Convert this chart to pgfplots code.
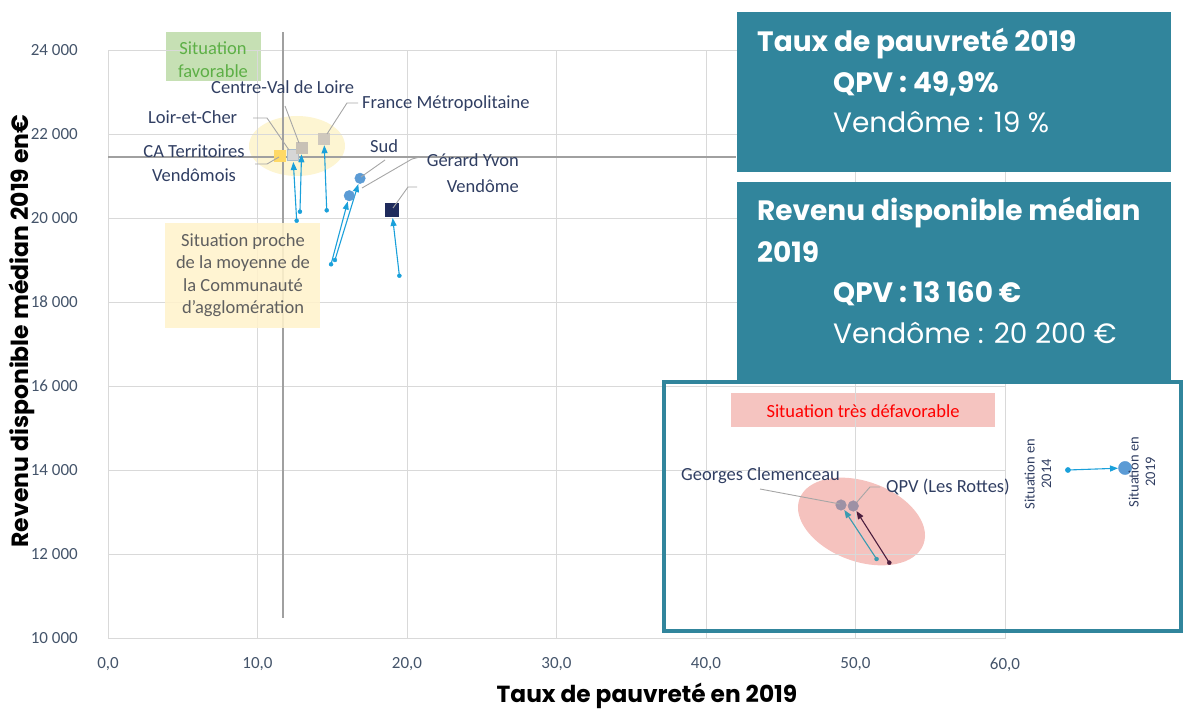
\documentclass[border=0pt]{standalone}
\usepackage{fontspec}
\setmainfont{Carlito}
\newfontfamily\pop{Poppins}
\usepackage{pgfplots}
\pgfplotsset{compat=1.18}
\usetikzlibrary{arrows.meta}
\definecolor{tealbox}{HTML}{31859C}
\definecolor{gridc}{HTML}{D9D9D9}
\definecolor{refc}{HTML}{A0A0A0}
\definecolor{leadc}{HTML}{A6A6A6}
\definecolor{tickc}{HTML}{44546A}
\definecolor{annc}{HTML}{303E62}
\definecolor{arrc}{HTML}{1AA0DA}
\definecolor{gcarr}{HTML}{3A9BB0}
\definecolor{qpvarr}{HTML}{4B1E3E}
\definecolor{yellell}{HTML}{FDF5D2}
\definecolor{pinkell}{HTML}{F5C2BE}
\definecolor{greenbox}{HTML}{C6E0B4}
\definecolor{greentxt}{HTML}{5DAF46}
\definecolor{yellbox}{HTML}{FFF2CC}
\definecolor{prochetxt}{HTML}{5F5F5F}
\definecolor{pinkbox}{HTML}{F5C4C0}
\definecolor{cayel}{HTML}{FFD966}
\definecolor{loirf}{HTML}{D6D6D6}
\definecolor{loird}{HTML}{A9BCCB}
\definecolor{centref}{HTML}{C8C1B6}
\definecolor{francef}{HTML}{CFC8BD}
\definecolor{bluec}{HTML}{5B9BD5}
\definecolor{navyc}{HTML}{1F2B5C}
\definecolor{qpvc}{HTML}{9D91A5}
\newcommand\af{\fontsize{18.5}{22}\selectfont}
\begin{document}
\begin{tikzpicture}
\begin{scope}[x=1pt,y=-1pt]
\useasboundingbox (0,0) rectangle (1184,706);
\fill[yellell] (297,146) ellipse [x radius=48, y radius=30];
\fill[pinkell, rotate around={-20:(861.5,521.5)}] (861.5,521.5) ellipse [x radius=66, y radius=40];
\fill[greenbox] (166,32) rectangle (261,81);
\fill[pinkbox] (731,393) rectangle (995,427);
\end{scope}
\begin{axis}[
  at={(108pt,-638pt)}, anchor=south west,
  scale only axis, width=897pt, height=588pt,
  xmin=0, xmax=60, ymin=10000, ymax=24000,
  clip=false,
  scaled y ticks=false, scaled x ticks=false,
  xtick={0,10,20,30,40,50,60},
  xticklabels={{0,0},{10,0},{20,0},{30,0},{40,0},{50,0},{60,0}},
  ytick={10000,12000,14000,16000,18000,20000,22000,24000},
  yticklabels={10 000,12 000,14 000,16 000,18 000,20 000,22 000,24 000},
  major tick length=0pt,
  grid=major, grid style={draw=gridc, line width=0.9pt},
  axis line style={draw=gridc, line width=0.9pt},
  ticklabel style={font=\fontsize{17}{17}\selectfont, text=tickc, inner sep=0pt},
  yticklabel style={anchor=east, xshift=-30pt},
  xticklabel style={anchor=north, yshift=-19.5pt},
]
% reference lines (CA Territoires Vendomois)
\addplot[refc, line width=2pt] coordinates {(11.69,10476) (11.69,24436)};
\addplot[refc, line width=2pt] coordinates {(0,21464) (42,21464)};
% arrows 2014 -> 2019
\addplot[arrc, line width=1.1pt, -{Triangle[length=8pt,width=6pt]}, shorten >=7pt] coordinates {(12.62,19936) (12.37,21500)};
\addplot[arrc, line width=1.1pt, -{Triangle[length=8pt,width=6pt]}, shorten >=7pt] coordinates {(12.84,20150) (12.96,21683)};
\addplot[arrc, line width=1.1pt, -{Triangle[length=8pt,width=6pt]}, shorten >=7pt] coordinates {(14.63,20183) (14.45,21898)};
\addplot[arrc, line width=1.1pt, -{Triangle[length=8pt,width=6pt]}, shorten >=6pt] coordinates {(14.92,18898) (16.14,20531)};
\addplot[arrc, line width=1.1pt, -{Triangle[length=8pt,width=6pt]}, shorten >=6pt] coordinates {(15.18,19000) (16.86,20945)};
\addplot[arrc, line width=1.1pt, -{Triangle[length=8pt,width=6pt]}, shorten >=8pt] coordinates {(19.49,18626) (18.98,20190)};
\addplot[gcarr, line width=1.1pt, -{Triangle[length=8pt,width=6pt]}, shorten >=6pt] coordinates {(51.41,11881) (49.03,13167)};
\addplot[qpvarr, line width=1.1pt, -{Triangle[length=8pt,width=6pt]}, shorten >=6pt] coordinates {(52.26,11793) (49.85,13143)};
% 2014 dots
\addplot[only marks, mark=*, mark size=2pt, arrc] coordinates {(12.62,19936) (12.84,20150) (14.63,20183) (14.92,18898) (15.18,19000) (19.49,18626)};
\addplot[only marks, mark=*, mark size=2pt, gcarr] coordinates {(51.41,11881)};
\addplot[only marks, mark=*, mark size=2pt, qpvarr] coordinates {(52.26,11793)};
% 2019 positions
\addplot[only marks, mark=square*, mark size=5.5pt, mark options={fill=cayel, draw=cayel}] coordinates {(11.5,21475)};
\addplot[only marks, mark=square*, mark size=5.5pt, mark options={fill=loirf, draw=loird, line width=1pt}] coordinates {(12.37,21500)};
\addplot[only marks, mark=square*, mark size=5.5pt, mark options={fill=centref, draw=centref}] coordinates {(12.96,21683)};
\addplot[only marks, mark=square*, mark size=5.5pt, mark options={fill=francef, draw=francef}] coordinates {(14.45,21898)};
\addplot[only marks, mark=*, mark size=5.3pt, mark options={fill=bluec, draw=bluec}] coordinates {(16.86,20945) (16.14,20531)};
\addplot[only marks, mark=square*, mark size=6.5pt, mark options={fill=navyc, draw=navyc}] coordinates {(18.98,20190)};
\addplot[only marks, mark=*, mark size=5.3pt, mark options={fill=qpvc, draw=qpvc}] coordinates {(49.03,13167) (49.85,13143)};
% legend
\addplot[arrc, line width=1.1pt, -{Triangle[length=8pt,width=6pt]}, shorten >=7pt] coordinates {(64.21,14000) (68.03,14048)};
\addplot[only marks, mark=*, mark size=2.6pt, arrc] coordinates {(64.21,14000)};
\addplot[only marks, mark=*, mark size=6.6pt, mark options={fill=bluec, draw=bluec}] coordinates {(68.03,14048)};
\end{axis}
\begin{scope}[x=1pt,y=-1pt]
% yellow box
\fill[yellbox, fill opacity=0.88] (165,223) rectangle (320,328);
\foreach \t/\yy in {Situation proche/246, de la moyenne de/268.5, la Communauté/291, d’agglomération/313.5}
  \node[anchor=base, inner sep=0pt, font=\af, text=prochetxt] at (243,\yy) {\t};
\node[anchor=base, inner sep=0pt, font=\af, text=greentxt] at (213,55) {Situation};
\node[anchor=base, inner sep=0pt, font=\af, text=greentxt] at (213,78) {favorable};
\node[anchor=base, inner sep=0pt, font=\af, text=red] at (863,417) {Situation très défavorable};
% leader lines
\draw[leadc, line width=0.9pt] (253,118) -- (267,118) -- (289,150);
\draw[leadc, line width=0.9pt] (285,106) -- (299,143);
\draw[leadc, line width=0.9pt] (358,103) -- (347,103) -- (327,134);
\draw[leadc, line width=0.9pt] (255,164) -- (267,164) -- (279,157);
\draw[leadc, line width=0.9pt] (385,160) -- (361,177);
\draw[leadc, line width=0.9pt] (420,157) -- (412,159) -- (362,188);
\draw[leadc, line width=0.9pt] (417,187) -- (408,187) -- (393,208);
\draw[leadc, line width=0.9pt] (760,489) -- (840,504);
\draw[leadc, line width=0.9pt] (880,487) -- (870,487) -- (857,502);
% labels
\node[anchor=base west, inner sep=0pt, font=\af, text=annc] at (211,94) {Centre-Val de Loire};
\node[anchor=base west, inner sep=0pt, font=\af, text=annc] at (362,109) {France Métropolitaine};
\node[anchor=base west, inner sep=0pt, font=\af, text=annc] at (148,124) {Loir-et-Cher};
\node[anchor=base, inner sep=0pt, font=\af, text=annc] at (194,158) {CA Territoires};
\node[anchor=base, inner sep=0pt, font=\af, text=annc] at (194,182) {Vendômois};
\node[anchor=base west, inner sep=0pt, font=\af, text=annc] at (370,153) {Sud};
\node[anchor=base east, inner sep=0pt, font=\af, text=annc] at (519,167) {Gérard Yvon};
\node[anchor=base east, inner sep=0pt, font=\af, text=annc] at (519,193) {Vendôme};
\node[anchor=base west, inner sep=0pt, font=\af, text=annc] at (681,480) {Georges Clemenceau};
\node[anchor=base west, inner sep=0pt, font=\af, text=annc] at (886,492) {QPV (Les Rottes)};
% legend texts
\node[rotate=90, align=center, inner sep=0pt, font=\fontsize{14.5}{16.5}\selectfont, text=annc] at (1038,474) {Situation en\\2014};
\node[rotate=90, align=center, inner sep=0pt, font=\fontsize{14.5}{16.5}\selectfont, text=annc] at (1142,472) {Situation en\\2019};
% axis titles
\node[rotate=90, inner sep=0pt, font=\pop\bfseries\fontsize{23.5}{23.5}\selectfont] at (22,331) {Revenu disponible médian 2019 en€};
\node[anchor=base, inner sep=0pt, font=\pop\bfseries\fontsize{23.3}{23.3}\selectfont] at (647,702) {Taux de pauvreté en 2019};
% teal info boxes
\fill[tealbox] (737,12) rectangle (1171,172);
\fill[tealbox] (737,182) rectangle (1171,380);
\node[anchor=base west, inner sep=0pt, text=white, font=\pop\bfseries\fontsize{28}{28}\selectfont] at (757,52) {Taux de pauvreté 2019};
\node[anchor=base west, inner sep=0pt, text=white, font=\pop\bfseries\fontsize{28}{28}\selectfont] at (833,93) {QPV : 49,9\%};
\node[anchor=base west, inner sep=0pt, text=white, font=\pop\fontsize{28}{28}\selectfont] at (833,133) {Vendôme : 19 \%};
\node[anchor=base west, inner sep=0pt, text=white, font=\pop\bfseries\fontsize{28}{28}\selectfont] at (757,220) {Revenu disponible médian};
\node[anchor=base west, inner sep=0pt, text=white, font=\pop\bfseries\fontsize{28}{28}\selectfont] at (757,262) {2019};
\node[anchor=base west, inner sep=0pt, text=white, font=\pop\bfseries\fontsize{28}{28}\selectfont] at (833,302) {QPV : 13 160 €};
\node[anchor=base west, inner sep=0pt, text=white, font=\pop\fontsize{28}{28}\selectfont] at (833,343) {Vendôme : 20 200 €};
% inset frame
\draw[tealbox, line width=4pt] (664,382) rectangle (1181,631);
\end{scope}
\end{tikzpicture}
\end{document}
